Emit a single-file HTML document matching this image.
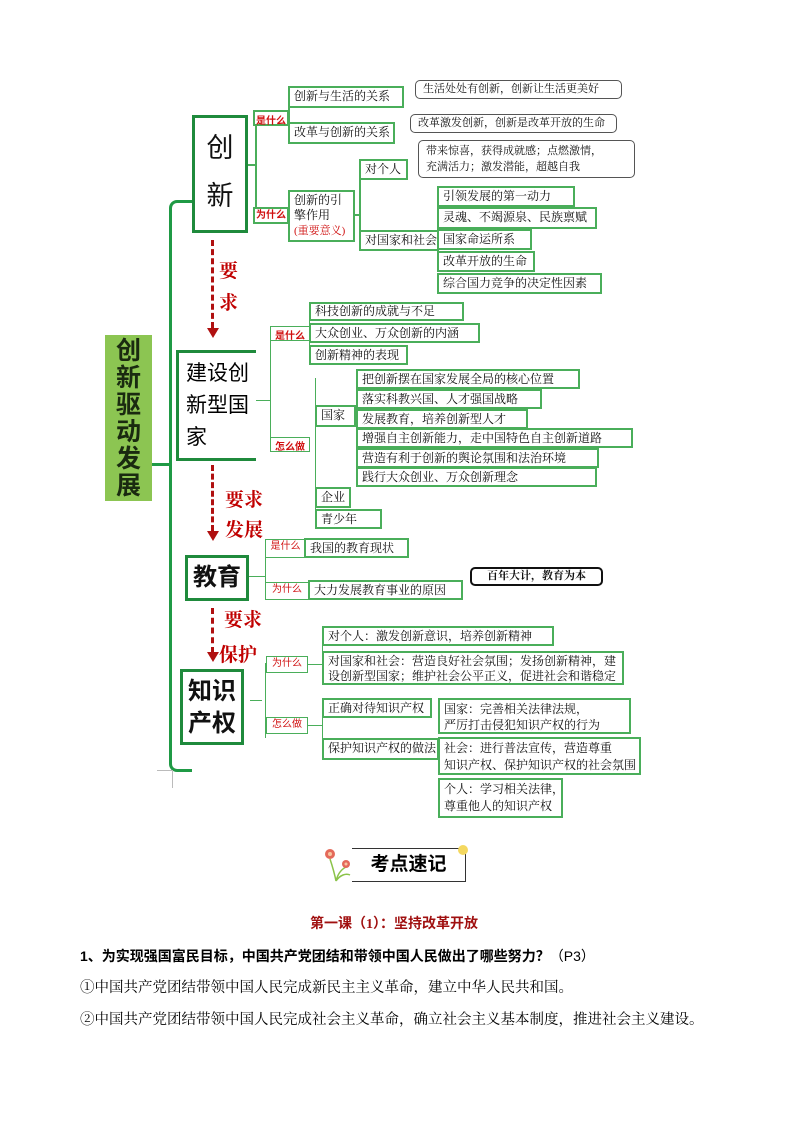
<!DOCTYPE html>
<html><head><meta charset="utf-8"><style>
body{margin:0;width:794px;height:1123px;background:#fff;position:relative;font-family:"Liberation Serif","Noto Serif CJK SC","Noto Sans CJK SC",serif;overflow:hidden}
.a{position:absolute}
.b{position:absolute;border:2px solid #4aae5a;box-sizing:border-box;font-size:12px;line-height:15px;padding:1px 4px;white-space:nowrap;color:#111;background:#fff}
.t{position:absolute;border:2px solid #4aae5a;box-sizing:border-box;font-size:10px;color:#d01010;font-weight:bold;text-align:center;font-family:"Liberation Sans","Noto Sans CJK SC",sans-serif;background:#fff}
.big{position:absolute;border:3px solid #1f8a3c;box-sizing:border-box;font-family:"Liberation Sans","Noto Sans CJK SC",sans-serif;font-size:24px;color:#111;text-align:center;background:#fff}
.h{position:absolute;height:2px;background:#4aae5a}
.v{position:absolute;width:2px;background:#4aae5a}
.c{position:absolute;border:1.5px solid #555;border-radius:5px;box-sizing:border-box;font-size:11px;line-height:15px;padding:1px 7px;white-space:nowrap;background:#fff;color:#111}
.red{position:absolute;color:#c00000;font-size:19px;font-family:"Liberation Serif","Noto Serif CJK SC",serif;font-weight:bold}
.dash{position:absolute;width:0;border-left:3px dashed #b01010}
.arr{position:absolute;width:0;height:0;border-left:6px solid transparent;border-right:6px solid transparent;border-top:10px solid #b01010}
p{margin:0}
</style></head><body>

<div class="a" style="left:105px;top:335px;width:47px;height:166px;background:#8cc552;font-family:'Liberation Sans','Noto Sans CJK SC',sans-serif;font-size:25px;font-weight:bold;line-height:27px;text-align:center;color:#1a2a10;padding-top:3px;box-sizing:border-box">创<br>新<br>驱<br>动<br>发<br>展</div>
<div class="a" style="left:169px;top:200px;width:20px;height:566px;border-left:3px solid #1f9a45;border-top:3px solid #1f9a45;border-bottom:3px solid #1f9a45;border-radius:8px 0 0 8px"></div>
<div class="a" style="left:152px;top:463px;width:18px;height:3px;background:#1f9a45"></div>
<div class="a" style="left:157px;top:770px;width:15px;height:1px;background:#bbb"></div>
<div class="a" style="left:172px;top:770px;width:1px;height:18px;background:#bbb"></div>

<div class="big" style="left:192px;top:115px;width:56px;height:118px;font-size:27px;line-height:48px;padding-top:6px">创<br>新</div>
<div class="h" style="left:248px;top:164px;width:8px"></div>
<div class="v" style="left:255px;top:117px;height:100px"></div>
<div class="t" style="left:253px;top:110px;width:36px;height:16px">是什么</div>
<div class="t" style="left:253px;top:207px;width:36px;height:17px;line-height:13px">为什么</div>
<div class="v" style="left:288px;top:97px;height:38px"></div>
<div class="b" style="left:288px;top:86px;width:116px;height:22px">创新与生活的关系</div>
<div class="b" style="left:288px;top:122px;width:107px;height:22px">改革与创新的关系</div>
<div class="c" style="left:415px;top:80px;width:207px;height:19px;line-height:14px">生活处处有创新，创新让生活更美好</div>
<div class="c" style="left:410px;top:114px;width:207px;height:19px;line-height:14px">改革激发创新，创新是改革开放的生命</div>
<div class="c" style="left:418px;top:140px;width:217px;height:38px;line-height:16px;padding-top:2px">带来惊喜，获得成就感；点燃激情，<br>充满活力；激发潜能，超越自我</div>
<div class="b" style="left:288px;top:190px;width:67px;height:52px;line-height:15px">创新的引<br>擎作用<br><span style="color:#d01010;font-size:11px">(重要意义)</span></div>
<div class="h" style="left:355px;top:214px;width:6px"></div>
<div class="v" style="left:359px;top:170px;height:72px"></div>
<div class="b" style="left:359px;top:159px;width:49px;height:21px">对个人</div>
<div class="b" style="left:359px;top:230px;width:80px;height:21px">对国家和社会</div>
<div class="b" style="left:437px;top:186px;width:138px;height:21px">引领发展的第一动力</div>
<div class="b" style="left:437px;top:207px;width:160px;height:22px">灵魂、不竭源泉、民族禀赋</div>
<div class="b" style="left:437px;top:229px;width:95px;height:21px">国家命运所系</div>
<div class="b" style="left:437px;top:251px;width:98px;height:21px">改革开放的生命</div>
<div class="b" style="left:437px;top:273px;width:165px;height:21px">综合国力竞争的决定性因素</div>

<div class="dash" style="left:211px;top:240px;height:88px"></div>
<div class="arr" style="left:207px;top:328px"></div>
<div class="red" style="left:219px;top:256px">要</div>
<div class="red" style="left:219px;top:288px">求</div>

<div class="a" style="left:176px;top:350px;width:80px;height:111px;border-left:3px solid #1f8a3c;border-top:3px solid #1f8a3c;border-bottom:3px solid #1f8a3c;box-sizing:border-box;font-family:'Liberation Sans','Noto Sans CJK SC',sans-serif;font-size:21px;line-height:32px;padding:5px 0 0 7px">建设创<br>新型国<br>家</div>
<div class="h" style="left:256px;top:400px;width:15px;height:1px"></div>
<div class="v" style="left:270px;top:333px;height:114px;width:1px"></div>
<div class="t" style="left:270px;top:326px;width:40px;height:15px;border-width:1px">是什么</div>
<div class="t" style="left:270px;top:437px;width:40px;height:15px;border-width:1px">怎么做</div>
<div class="v" style="left:309px;top:306px;height:58px;width:1px"></div>
<div class="b" style="left:309px;top:302px;width:155px;height:19px;line-height:13px">科技创新的成就与不足</div>
<div class="b" style="left:309px;top:323px;width:171px;height:20px;line-height:14px">大众创业、万众创新的内涵</div>
<div class="b" style="left:309px;top:345px;width:99px;height:20px;line-height:14px">创新精神的表现</div>
<div class="v" style="left:315px;top:378px;height:150px;width:1px"></div>
<div class="b" style="left:315px;top:405px;width:41px;height:22px;line-height:15px">国家</div>
<div class="b" style="left:315px;top:487px;width:36px;height:21px">企业</div>
<div class="b" style="left:315px;top:509px;width:67px;height:20px;line-height:14px">青少年</div>
<div class="b" style="left:356px;top:369px;width:224px;height:20px;line-height:14px">把创新摆在国家发展全局的核心位置</div>
<div class="b" style="left:356px;top:389px;width:186px;height:20px;line-height:14px">落实科教兴国、人才强国战略</div>
<div class="b" style="left:356px;top:409px;width:172px;height:20px;line-height:14px">发展教育，培养创新型人才</div>
<div class="b" style="left:356px;top:428px;width:277px;height:20px;line-height:14px">增强自主创新能力，走中国特色自主创新道路</div>
<div class="b" style="left:356px;top:448px;width:243px;height:20px;line-height:14px">营造有利于创新的舆论氛围和法治环境</div>
<div class="b" style="left:356px;top:467px;width:241px;height:20px;line-height:14px">践行大众创业、万众创新理念</div>

<div class="dash" style="left:211px;top:465px;height:66px"></div>
<div class="arr" style="left:207px;top:531px"></div>
<div class="red" style="left:225px;top:485px">要求</div>
<div class="red" style="left:225px;top:515px">发展</div>

<div class="big" style="left:185px;top:555px;width:64px;height:46px;line-height:40px;font-weight:bold">教育</div>
<div class="h" style="left:249px;top:576px;width:17px;height:1px"></div>
<div class="v" style="left:265px;top:541px;height:55px;width:1px"></div>
<div class="t" style="left:265px;top:539px;width:41px;height:19px;border-width:1px;line-height:14px;font-weight:normal">是什么</div>
<div class="b" style="left:304px;top:538px;width:105px;height:20px;line-height:14px">我国的教育现状</div>
<div class="t" style="left:265px;top:582px;width:44px;height:18px;border-width:1px;line-height:14px;font-weight:normal">为什么</div>
<div class="b" style="left:308px;top:580px;width:155px;height:20px;line-height:14px">大力发展教育事业的原因</div>
<div class="c" style="left:470px;top:567px;width:133px;height:19px;border:2px solid #111;line-height:13px;font-weight:bold;text-align:center">百年大计，教育为本</div>

<div class="dash" style="left:211px;top:608px;height:45px"></div>
<div class="arr" style="left:207px;top:652px"></div>
<div class="red" style="left:224px;top:605px">要求</div>
<div class="red" style="left:219px;top:640px">保护</div>

<div class="big" style="left:180px;top:669px;width:64px;height:76px;font-size:24px;line-height:32px;padding-top:4px;font-weight:bold">知识<br>产权</div>
<div class="h" style="left:250px;top:700px;width:12px;height:1px"></div>
<div class="v" style="left:265px;top:663px;height:75px;width:1px"></div>
<div class="t" style="left:266px;top:656px;width:42px;height:17px;border-width:1px;line-height:14px;font-weight:normal">为什么</div>
<div class="t" style="left:266px;top:717px;width:42px;height:17px;border-width:1px;line-height:14px;font-weight:normal">怎么做</div>
<div class="h" style="left:308px;top:664px;width:14px;height:1px"></div>
<div class="h" style="left:308px;top:725px;width:14px;height:1px"></div>
<div class="v" style="left:322px;top:640px;height:45px;width:1px"></div>
<div class="v" style="left:322px;top:708px;height:50px;width:1px"></div>
<div class="b" style="left:322px;top:626px;width:232px;height:20px;line-height:14px">对个人：激发创新意识，培养创新精神</div>
<div class="b" style="left:322px;top:651px;width:302px;height:34px;line-height:15px">对国家和社会：营造良好社会氛围；发扬创新精神，建<br>设创新型国家；维护社会公平正义，促进社会和谐稳定</div>
<div class="b" style="left:322px;top:698px;width:110px;height:20px;line-height:14px">正确对待知识产权</div>
<div class="b" style="left:322px;top:738px;width:117px;height:22px;line-height:15px">保护知识产权的做法</div>
<div class="b" style="left:438px;top:698px;width:193px;height:36px;line-height:16px">国家：完善相关法律法规，<br>严厉打击侵犯知识产权的行为</div>
<div class="b" style="left:438px;top:737px;width:203px;height:38px;line-height:17px">社会：进行普法宣传，营造尊重<br>知识产权、保护知识产权的社会氛围</div>
<div class="b" style="left:438px;top:778px;width:125px;height:40px;line-height:17px">个人：学习相关法律，<br>尊重他人的知识产权</div>

<svg class="a" style="left:322px;top:847px" width="34" height="36" viewBox="0 0 34 36">
<path d="M14 34 C12 24 10 18 8 12 M14 34 C16 26 20 22 24 20 M14 34 C18 28 24 26 28 28" stroke="#8bc34a" stroke-width="1.5" fill="none"/>
<circle cx="8" cy="7" r="5" fill="#e46a5a"/><circle cx="8" cy="7" r="2" fill="#f7c6a0"/>
<circle cx="24" cy="17" r="4" fill="#e46a5a"/><circle cx="24" cy="17" r="1.5" fill="#f7c6a0"/>
</svg>
<div class="a" style="left:352px;top:848px;width:114px;height:34px;border-top:1px solid #333;border-right:1.5px solid #333;border-bottom:1.5px solid #333;box-sizing:border-box;font-family:'Liberation Sans','Noto Sans CJK SC',sans-serif;font-weight:bold;font-size:19px;line-height:32px;text-align:center">考点速记</div>
<div class="a" style="left:458px;top:845px;width:10px;height:10px;border-radius:50%;background:#f4d860"></div>

<div class="a" style="left:310px;top:913px;font-size:14px;color:#a01010;font-weight:bold;font-family:'Liberation Serif','Noto Sans CJK SC',sans-serif;white-space:nowrap">第一课（1）：坚持改革开放</div>
<div class="a" style="left:80px;top:946px;font-size:14px;font-weight:bold;font-family:'Liberation Sans','Noto Sans CJK SC',sans-serif;white-space:nowrap">1、为实现强国富民目标，中国共产党团结和带领中国人民做出了哪些努力？<span style="font-weight:normal">（P3）</span></div>
<div class="a" style="left:80px;top:976px;font-size:14.5px;white-space:nowrap">①中国共产党团结带领中国人民完成新民主主义革命，建立中华人民共和国。</div>
<div class="a" style="left:80px;top:1008px;font-size:14.5px;white-space:nowrap">②中国共产党团结带领中国人民完成社会主义革命，确立社会主义基本制度，推进社会主义建设。</div>
</body></html>
